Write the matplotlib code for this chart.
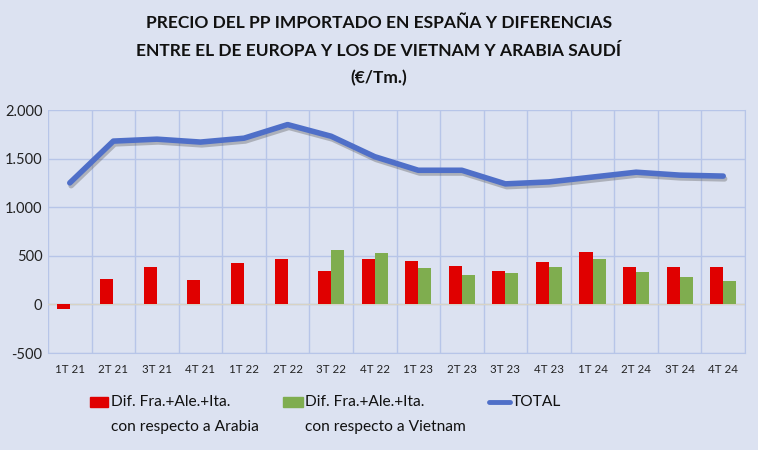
import numpy as np
import matplotlib
matplotlib.use("Agg")
import matplotlib.pyplot as plt
import matplotlib.patheffects as pe
from matplotlib.patches import Rectangle
from matplotlib.lines import Line2D

plt.rcParams['font.family'] = ['Lato', 'DejaVu Sans']

quarters = ["1T 21", "2T 21", "3T 21", "4T 21", "1T 22", "2T 22", "3T 22", "4T 22",
            "1T 23", "2T 23", "3T 23", "4T 23", "1T 24", "2T 24", "3T 24", "4T 24"]
dif_arabia = [-45, 265, 385, 255, 425, 465, 345, 465,
              450, 400, 345, 435, 540, 385, 385, 385]
dif_vietnam = [np.nan, np.nan, np.nan, np.nan, np.nan, np.nan, 555, 525,
               370, 305, 320, 385, 465, 330, 280, 240]
total = [1250, 1680, 1700, 1670, 1710, 1850, 1730, 1520,
         1380, 1380, 1240, 1260, 1310, 1360, 1330, 1320]

bg = "#DCE2F1"
red = "#E00000"
green = "#7FAD4F"
blue = "#4F6FC8"
gridc = "#B7C5E8"

W, H = 758, 450
fig = plt.figure(figsize=(W / 100, H / 100), dpi=100, facecolor=bg)
ax = fig.add_axes([48 / W, 1 - 353 / H, 697 / W, 243 / H])
ax.set_facecolor(bg)

x = np.arange(len(quarters))
w = 0.3
ax.bar(x - w / 2, dif_arabia, width=w, color=red, zorder=3)
ax.bar(x + w / 2, dif_vietnam, width=w, color=green, zorder=3)
ax.plot(x, total, color=blue, lw=4, solid_capstyle="round", zorder=4,
        path_effects=[pe.SimpleLineShadow(offset=(1, -2), shadow_color="#555555", alpha=0.35),
                      pe.Normal()])

ax.set_xlim(-0.5, len(quarters) - 0.5)
ax.set_ylim(-500, 2000)
ax.set_yticks(range(-500, 2001, 500))
ax.set_yticklabels([f"{v:,}".replace(",", ".") for v in range(-500, 2001, 500)])
ax.set_xticks(x)
ax.set_xticklabels(quarters)
ax.set_xticks(np.arange(-0.5, len(quarters)), minor=True)
ax.grid(True, which="minor", axis="x", color=gridc, lw=1, zorder=0)
ax.grid(True, which="major", axis="y", color=gridc, lw=1, zorder=0)
ax.axhline(0, color="#D8D3C4", lw=1, zorder=2)
for s in ax.spines.values():
    s.set_visible(False)
ax.spines["right"].set_visible(True)
ax.spines["right"].set_color(gridc)
ax.spines["bottom"].set_visible(True)
ax.spines["bottom"].set_color(gridc)
ax.tick_params(which="both", length=0)
ax.tick_params(axis="y", labelsize=10.5, pad=4, colors="#222222")
ax.tick_params(axis="x", labelsize=8.3, pad=8, colors="#222222")

title_lines = ["PRECIO DEL PP IMPORTADO EN ESPAÑA Y DIFERENCIAS",
               "ENTRE EL DE EUROPA Y LOS DE VIETNAM Y ARABIA SAUDÍ",
               "(€/Tm.)"]
for ty, line in zip([23, 51, 78], title_lines):
    fig.text(0.5, 1 - ty / H, line, ha="center", va="center",
             fontsize=12.5, fontweight="bold", color="#111111")

# legend drawn by hand to keep the two-line labels aligned like the original
leg_fs = 11.2
fig.patches.append(Rectangle((90 / W, 1 - 407 / H), 18 / W, 10 / H,
                             transform=fig.transFigure, color=red))
fig.patches.append(Rectangle((283 / W, 1 - 407 / H), 20 / W, 10 / H,
                             transform=fig.transFigure, color=green))
fig.lines.append(Line2D([489 / W, 510 / W], [1 - 402 / H, 1 - 402 / H],
                        transform=fig.transFigure, color=blue, lw=3.5,
                        solid_capstyle="round"))
legend_labels = [(111, "Dif. Fra.+Ale.+Ita.", "con respecto a Arabia"),
                 (305, "Dif. Fra.+Ale.+Ita.", "con respecto a Vietnam"),
                 (512, "TOTAL", None)]
for lx, l1, l2 in legend_labels:
    fig.text(lx / W, 1 - 402 / H, l1, ha="left", va="center", fontsize=leg_fs, color="#111111")
    if l2:
        fig.text(lx / W, 1 - 427 / H, l2, ha="left", va="center", fontsize=leg_fs, color="#111111")

fig.savefig("out.png", dpi=100, facecolor=bg)
